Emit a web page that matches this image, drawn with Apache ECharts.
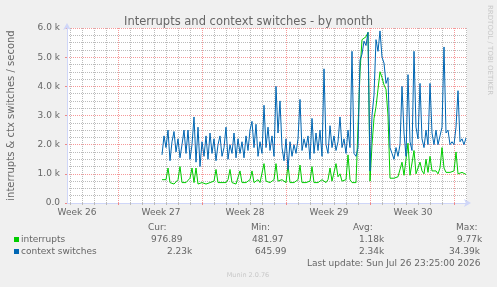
<!DOCTYPE html>
<html>
<head>
<meta charset="utf-8">
<script src="https://cdn.jsdelivr.net/npm/echarts@6.0.0/dist/echarts.min.js"></script>
<style>
  html, body { margin: 0; padding: 0; background: #f0f0f0; }
  #main { width: 497px; height: 287px; }
</style>
</head>
<body>
<div id="main"></div>
<script>
// samples every 4 hours, hour 0 = left edge of the plot
var firstHour = 190;
var stepHours = 4;

var interrupts = [
  800, 750, 800, 1200, 700, 750, 650, 700, 800, 1250,
  700, 750, 700, 750, 850, 1200, 700, 1200, 650, 600,
  700, 750, 650, 700, 700, 650, 750, 1150, 700, 650,
  700, 750, 700, 800, 1150, 700, 700, 650, 700, 1100,
  700, 750, 700, 750, 800, 1100, 700, 750, 800, 700,
  750, 1350, 750, 800, 700, 750, 800, 1350, 750, 700,
  800, 750, 700, 1300, 700, 650, 700, 750, 800, 1300,
  700, 650, 700, 700, 750, 1250, 700, 650, 700, 750,
  800, 750, 700, 800, 1200, 750, 800, 1350, 900, 1000,
  750, 700, 800, 1650, 800, 700, 750, 700, 750, 4500,
  5600, 5600, 5700, 5850, 750, 2000, 2900, 3300, 3900, 4500,
  4300, 4050, 3900, 3000, 850, 800, 850, 800, 900, 950,
  1400, 950, 1000, 2050, 950, 1000, 1800, 1000, 1050, 1400,
  1100, 1000, 1500, 1050, 1600, 1100, 1050, 1100, 1000, 1200,
  1900, 1200, 1050, 1000, 1050, 1000, 1100, 1750, 1000, 950,
  1050, 1000, 980
];

var contextSwitches = [
  1650, 2300, 1900, 2500, 1450, 2100, 2450, 1750, 2200, 1550,
  2000, 2500, 1700, 2500, 1500, 2000, 2950, 1400, 2600, 1250,
  2100, 1600, 2300, 1500, 2400, 1700, 2200, 1450, 2000, 2300,
  1600, 1900, 2600, 1500, 2000, 1700, 2400, 1550, 2200, 1700,
  2100, 1550, 2300, 1800, 2500, 2800, 1900, 2700, 1600, 2100,
  1700, 3350, 1900, 2600, 1800, 2300, 1600, 4000, 2400, 3500,
  1900, 1450, 2200, 1150, 2100, 1600, 2000, 1700, 2200, 3550,
  1800, 2200, 1900, 2300, 1500, 2900, 1700, 2400, 1800, 2500,
  1600, 4600, 2000, 1700, 2650, 1900, 2300, 1800, 2100, 2950,
  1900, 2200, 1700, 2500, 1900, 5200, 1700, 1600, 1900, 4900,
  5100, 5550, 5400, 5850, 1100, 3000, 3700, 5600, 5200, 5900,
  5000, 4800, 4100, 4300, 1900, 1700, 1500, 1900, 1600, 2000,
  4000, 2400, 1600, 4400, 2100, 1800, 5200, 2600, 2200, 4100,
  2200, 1900, 2500, 2000, 4100, 2400, 2000, 2500, 2000, 2300,
  2600, 5350, 2400, 2500, 2000, 2100, 2000, 2600, 3850, 2100,
  2200, 2000, 2230
];

var weekLabels = ['Week 26', 'Week 27', 'Week 28', 'Week 29', 'Week 30'];
var yTickLabels = ['0.0', '1.0 k', '2.0 k', '3.0 k', '4.0 k', '5.0 k', '6.0 k'];

var legendHeads = ['Cur:', 'Min:', 'Avg:', 'Max:'];
var interruptStats = ['976.89', '481.97', '1.18k', '9.77k'];
var ctxStats = ['2.23k', '645.99', '2.34k', '34.39k'];

// grid slots of 2 hours, used only for grid lines and labels
var slots = [];
for (var i = 0; i <= 400; i++) slots.push(i * 2);
var firstWeekSlot = 10;
var firstMajorSlot = 51;

function isDay(idx) { return idx % 12 === 3 && (idx - firstMajorSlot) % 84 !== 0; }
function isMajor(idx) { return idx >= firstMajorSlot && (idx - firstMajorSlot) % 84 === 0; }
function isWeek(idx) { return idx >= firstWeekSlot && (idx - firstWeekSlot) % 84 === 0; }

var irqData = interrupts.map(function (v, i) { return [firstHour + i * stepHours, v]; });
var ctxData = contextSwitches.map(function (v, i) { return [firstHour + i * stepHours, v]; });

var font = 'DejaVu Sans';
var fontColor = '#666';
var minorGrid = 'rgba(120,120,120,0.5)';
var majorGrid = 'rgba(230,0,0,0.4)';

var chart = echarts.init(document.getElementById('main'));

var graphics = [
  { type: 'rect', shape: { x: 14, y: 237, width: 5, height: 5 }, style: { fill: '#00cc00' } },
  { type: 'rect', shape: { x: 14, y: 249, width: 5, height: 5 }, style: { fill: '#0066b3' } },
  { type: 'text', x: 21, y: 239.5, style: { text: 'interrupts', font: '9px ' + font, fill: fontColor, verticalAlign: 'middle' } },
  { type: 'text', x: 21, y: 251.5, style: { text: 'context switches', font: '9px ' + font, fill: fontColor, verticalAlign: 'middle' } },
  { type: 'text', x: 307, y: 263.5, style: { text: 'Last update: Sun Jul 26 23:25:00 2026', font: '9px ' + font, fill: fontColor, verticalAlign: 'middle' } },
  { type: 'text', x: 248, y: 275, style: { text: 'Munin 2.0.76', font: '6.5px ' + font, fill: '#c8c8c8', align: 'center', verticalAlign: 'middle' } },
  { type: 'text', x: 490, y: 5, rotation: -Math.PI / 2, style: { text: 'RRDTOOL / TOBI OETIKER', font: '7px ' + font, fill: '#c8c8c8', verticalAlign: 'middle' } }
];
var headX = [148, 251, 353, 456];
var irqX = [151, 252, 359, 457];
var ctxX = [167, 255, 359, 449];
legendHeads.forEach(function (t, i) {
  graphics.push({ type: 'text', x: headX[i], y: 227.5, style: { text: t, font: '9px ' + font, fill: fontColor, verticalAlign: 'middle' } });
  graphics.push({ type: 'text', x: irqX[i], y: 239.5, style: { text: interruptStats[i], font: '9px ' + font, fill: fontColor, verticalAlign: 'middle' } });
  graphics.push({ type: 'text', x: ctxX[i], y: 251.5, style: { text: ctxStats[i], font: '9px ' + font, fill: fontColor, verticalAlign: 'middle' } });
});

chart.setOption({
  animation: false,
  backgroundColor: '#f0f0f0',
  title: {
    text: 'Interrupts and context switches - by month',
    left: 'center',
    top: 16,
    padding: 0,
    textStyle: { fontFamily: font, fontSize: 11.5, fontWeight: 'normal', color: '#666' }
  },
  grid: {
    left: 67, right: 30, top: 28, bottom: 84,
    outerBoundsMode: 'none',
    show: true, backgroundColor: '#fff', borderWidth: 0
  },
  xAxis: [
    { type: 'value', min: 0, max: 800, show: false },
    {
      type: 'category',
      position: 'bottom',
      data: slots,
      boundaryGap: false,
      axisLine: { show: true, lineStyle: { color: '#cfd6f8' }, symbol: ['none', 'arrow'], symbolSize: [6, 7], symbolOffset: [0, 4] },
      axisTick: { show: true, interval: function (idx) { return isDay(idx); }, length: 2, lineStyle: { color: '#bbb' } },
      axisLabel: {
        interval: function (idx) { return isWeek(idx); },
        formatter: function (v, idx) { return weekLabels[(idx - firstWeekSlot) / 84]; },
        fontFamily: font, fontSize: 9, color: fontColor, margin: 5
      },
      splitLine: { show: true, interval: function (idx) { return isDay(idx); }, lineStyle: { color: minorGrid, type: 'dotted' } }
    },
    {
      type: 'category',
      position: 'bottom',
      data: slots,
      boundaryGap: false,
      axisLine: { show: false },
      axisTick: { show: true, interval: function (idx) { return isMajor(idx); }, length: 2, lineStyle: { color: '#e88' } },
      axisLabel: { show: false },
      splitLine: { show: true, interval: function (idx) { return isMajor(idx); }, lineStyle: { color: majorGrid, type: 'dotted' } }
    }
  ],
  yAxis: {
    type: 'value',
    min: 0,
    max: 6000,
    interval: 1000,
    name: 'interrupts & ctx switches / second',
    nameLocation: 'middle',
    nameGap: 51,
    nameTextStyle: { fontFamily: font, fontSize: 10, color: fontColor },
    axisLine: { show: true, lineStyle: { color: '#cfd6f8' }, symbol: ['none', 'arrow'], symbolSize: [6, 7], symbolOffset: [0, 5] },
    axisTick: { show: true, length: 2, lineStyle: { color: '#e88' } },
    axisLabel: {
      formatter: function (v) { return yTickLabels[v / 1000]; },
      fontFamily: font, fontSize: 9, color: fontColor, margin: 7
    },
    splitLine: { show: true, lineStyle: { color: majorGrid, type: 'dotted' } },
    minorTick: { show: false, splitNumber: 4 },
    minorSplitLine: { show: true, lineStyle: { color: minorGrid, type: 'dotted' } }
  },
  series: [
    { name: 'interrupts', type: 'line', xAxisIndex: 0, data: irqData, showSymbol: false, lineStyle: { width: 1, color: '#00cc00' }, itemStyle: { color: '#00cc00' } },
    { name: 'context switches', type: 'line', xAxisIndex: 0, data: ctxData, showSymbol: false, lineStyle: { width: 1, color: '#0066b3' }, itemStyle: { color: '#0066b3' } }
  ],
  graphic: graphics
});
</script>
</body>
</html>
